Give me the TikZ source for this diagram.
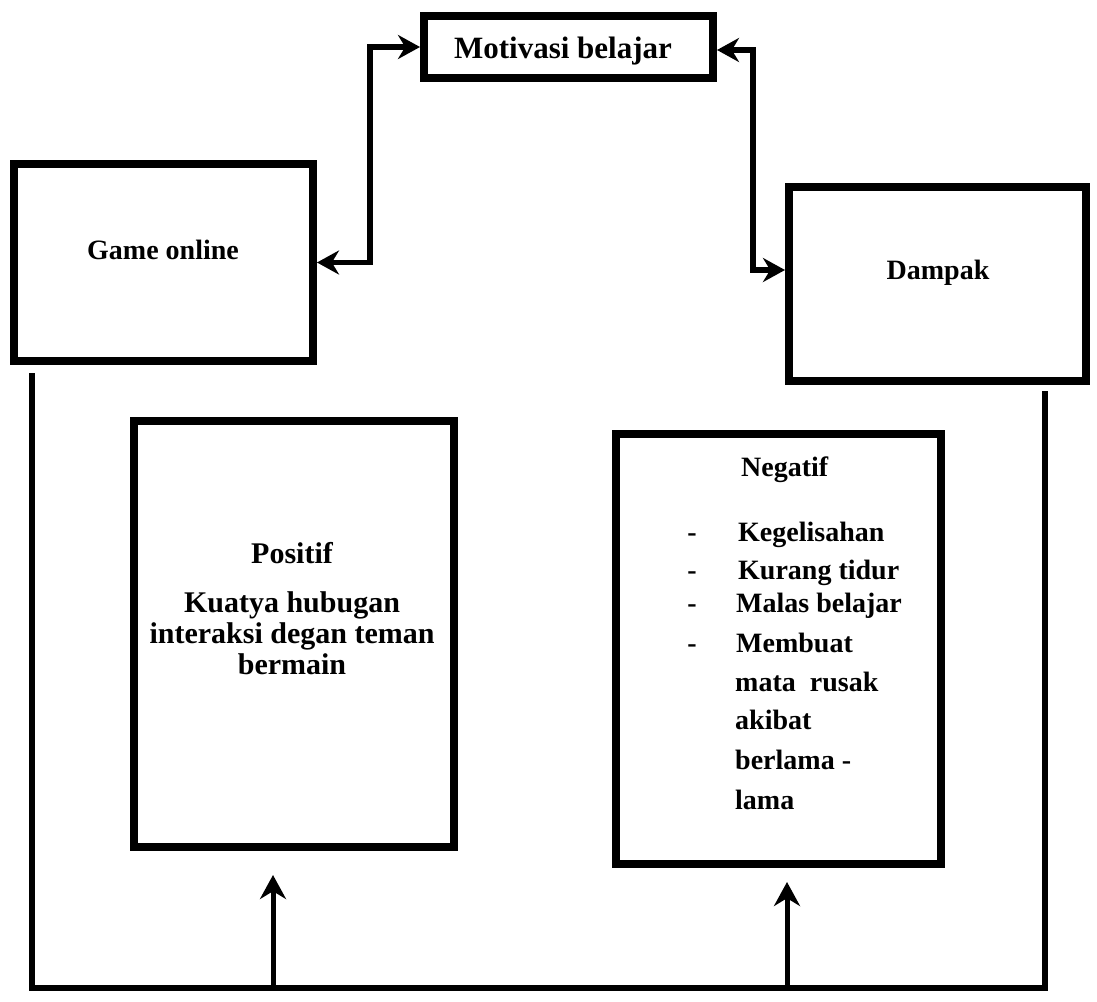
\documentclass[tikz,border=0pt]{standalone}
\usepackage{fontspec}
\setmainfont{Liberation Serif}
\usetikzlibrary{arrows.meta,calc}
\begin{document}
\begin{tikzpicture}[x=1pt,y=-1pt,
  box/.style={draw,line width=8pt,inner sep=0pt},
  lbl/.style={font=\fontsize{28}{34}\selectfont\bfseries,inner sep=0pt},
  plbl/.style={font=\fontsize{30}{36}\selectfont\bfseries,inner sep=0pt},
  conn/.style={line width=5.5pt,{Stealth[length=22pt,width=24pt]}-{Stealth[length=22pt,width=24pt]}},
  frameline/.style={line width=5.5pt,line join=miter},
  uparrow/.style={line width=5pt,-{Stealth[length=24pt,width=26pt]}}]
\useasboundingbox (0,0) rectangle (1097,1001);

% boxes
\node[box,minimum width=289pt,minimum height=62pt] (motiv) at (568.5,47) {};
\node[box,minimum width=299pt,minimum height=197pt] (game) at (163.5,262.5) {};
\node[box,minimum width=297pt,minimum height=194pt] (dampak) at (937.5,284) {};
\node[box,minimum width=320pt,minimum height=426pt] (positif) at (294,634) {};
\node[box,minimum width=325pt,minimum height=430pt] (negatif) at (778.5,649) {};

% texts
\node[lbl,anchor=base,font=\fontsize{31}{36}\selectfont\bfseries] (motivt) at (563,58) {Motivasi belajar};
\node[lbl,anchor=base] (gamet) at (163,259) {Game online};
\node[lbl,anchor=base] (dampakt) at (938,279) {Dampak};

\node[plbl,anchor=base] (post) at (292,563) {Positif};
\node[plbl,anchor=base] (pos1) at (292,612) {Kuatya hubugan};
\node[plbl,anchor=base] (pos2) at (292,643) {interaksi degan teman};
\node[plbl,anchor=base] (pos3) at (292,674) {bermain};

\node[lbl,anchor=base west] (negt) at (741,476) {Negatif};
\node[lbl,anchor=base] (d1) at (692,541) {-};
\node[lbl,anchor=base] (d2) at (692,579) {-};
\node[lbl,anchor=base] (d3) at (692,612) {-};
\node[lbl,anchor=base] (d4) at (692,652) {-};
\node[lbl,anchor=base west] (n1) at (738,541) {Kegelisahan};
\node[lbl,anchor=base west] (n2) at (738,579) {Kurang tidur};
\node[lbl,anchor=base west] (n3) at (736,612) {Malas belajar};
\node[lbl,anchor=base west] (n4) at (736,652) {Membuat};
\node[lbl,anchor=base west] (n5) at (735,691) {mata\ \ rusak};
\node[lbl,anchor=base west] (n6) at (735,729) {akibat};
\node[lbl,anchor=base west] (n7) at (735,769) {berlama -};
\node[lbl,anchor=base west] (n8) at (735,809) {lama};

% connectors to Motivasi belajar
\coordinate (lc) at (370,47);
\draw[conn] (game.east) -| (lc) -- (motiv.west);
\coordinate (rc) at (753,50);
\draw[conn] ([yshift=-3pt]motiv.east) -- (rc) |- ([yshift=14pt]dampak.west);

% outer frame
\coordinate (ls) at (32,373);
\coordinate (bl) at (32,988);
\coordinate (br) at (1045,988);
\coordinate (rs) at (1045,391);
\draw[frameline] (ls) -- (bl) -- (br) -- (rs);

% arrows up
\coordinate (pa) at (273,988);
\coordinate (na) at (787,988);
\draw[uparrow] (pa) -- ($(pa |- positif.south)+(0,24)$);
\draw[uparrow] (na) -- ($(na |- negatif.south)+(0,14)$);
\end{tikzpicture}
\end{document}
